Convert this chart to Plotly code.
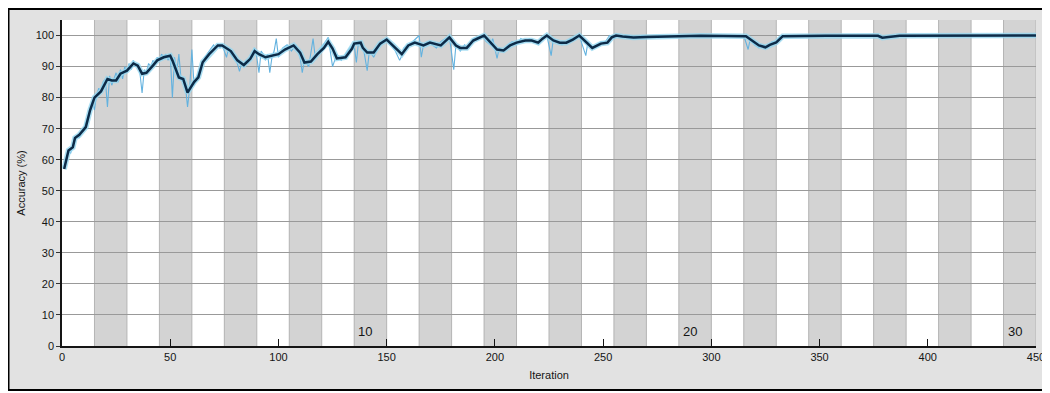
import plotly.graph_objects as go

# ---------------- data ----------------
iters_per_epoch = 15
n_epochs = 30
epoch_label_list = [10, 20, 30]
x_tick_vals = [0, 50, 100, 150, 200, 250, 300, 350, 400, 450]
y_tick_vals = [0, 10, 20, 30, 40, 50, 60, 70, 80, 90, 100]

# smoothed training accuracy (dark line)
smooth_iter = [1, 3, 5, 6, 8, 11, 13, 15, 18, 21,
               23, 25, 27, 30, 33, 35, 37, 39, 42, 44,
               47, 50, 51, 54, 56, 58, 61, 63, 65, 68,
               72, 74, 78, 81, 84, 87, 89, 91, 94, 97,
               100, 103, 107, 110, 112, 115, 118, 121, 123, 125,
               127, 131, 134, 135, 138, 139, 141, 144, 147, 150,
               153, 157, 160, 163, 167, 170, 175, 179, 182, 184,
               187, 190, 195, 198, 201, 204, 207, 210, 214, 217,
               220, 222, 224, 227, 230, 233, 236, 239, 243, 245,
               249, 252, 254, 256, 259, 264, 270, 282, 295, 316,
               319, 322, 325, 327, 330, 333, 353, 377, 379, 384,
               387, 450]
smooth_acc = [57, 63, 64, 67, 68, 70.5, 76, 80, 82, 86,
              85.5, 85.5, 87.7, 88.7, 91, 90.3, 87.7, 88, 90.3, 92,
              93, 93.5, 92, 86.5, 86, 81.6, 85, 86.5, 91.4, 94,
              96.8, 96.8, 95, 92, 90.5, 92.5, 95, 94, 93, 93.5,
              94, 95.5, 96.8, 94.5, 91.3, 91.6, 94, 96, 98, 95.8,
              92.6, 93, 95.8, 97.4, 97.7, 96, 94.5, 94.5, 97.4, 98.7,
              96.8, 94, 96.8, 97.7, 96.8, 97.7, 96.8, 99.4, 96.8, 96,
              96, 98.4, 100, 97.7, 95.5, 95.2, 96.8, 97.7, 98.4, 98.4,
              97.7, 99, 100, 98.4, 97.7, 97.7, 98.7, 100, 97.4, 96,
              97.4, 97.7, 99.4, 100, 99.7, 99.4, 99.5, 99.7, 99.9, 99.8,
              98.4, 96.8, 96.2, 97, 97.8, 99.8, 99.9, 99.9, 99.3, 99.7,
              99.9, 100]

# raw training accuracy (light blue line)
raw_iter = [1, 2, 3, 4, 5, 6, 7, 8, 9, 10,
            11, 12, 13, 14, 15, 16, 17, 18, 19, 20,
            21, 22, 23, 24, 25, 26, 27, 28, 29, 30,
            31, 32, 33, 34, 35, 36, 37, 38, 39, 40,
            41, 42, 43, 44, 45, 46, 47, 48, 49, 50,
            51, 52, 53, 54, 55, 56, 57, 58, 59, 60,
            61, 62, 63, 64, 65, 66, 67, 68, 69, 70,
            71, 72, 73, 74, 75, 76, 77, 78, 79, 80,
            81, 82, 83, 84, 85, 86, 87, 88, 89, 90,
            91, 92, 93, 94, 95, 96, 97, 98, 99, 100,
            102, 104, 106, 108, 110, 111, 112, 114, 116, 117,
            119, 121, 123, 125, 127, 129, 131, 133, 135, 136,
            137, 139, 141, 142, 144, 146, 148, 150, 152, 154,
            156, 157, 158, 160, 162, 165, 166, 167, 169, 171,
            173, 175, 177, 179, 181, 182, 184, 186, 188, 190,
            192, 194, 196, 198, 199, 201, 202, 204, 206, 208,
            210, 212, 214, 216, 218, 220, 222, 224, 226, 227,
            229, 231, 233, 235, 237, 239, 242, 243, 245, 247,
            249, 251, 253, 255, 257, 259, 262, 265, 268, 272,
            276, 280, 285, 290, 295, 300, 305, 310, 315, 317,
            318, 320, 322, 324, 326, 328, 330, 332, 335, 350,
            377, 378, 380, 385, 450]
raw_acc = [58, 60, 63, 62, 65, 66, 68, 67, 69, 70,
           72, 74, 77, 79, 76, 81, 83, 82, 85, 86,
           77, 87, 84, 86, 88, 85, 89, 86, 90, 88,
           91, 89, 92, 90, 91, 88, 81.5, 89, 88, 91,
           90, 92, 91, 93, 92, 94, 93, 94, 92, 94,
           80, 93, 88, 94, 86, 85, 84, 77, 83, 95.5,
           84, 86, 88, 90, 91, 93, 94, 95, 96, 97,
           96, 97, 96, 97, 95, 93, 96, 94, 93, 92,
           91, 88.5, 91, 90, 92, 91, 93, 94, 96, 93,
           88, 95, 94, 92, 94, 88, 93, 95, 99, 93,
           96, 97, 95, 97, 93, 88, 92, 90, 99, 93,
           95, 97, 99.4, 90, 94, 92, 94, 96, 97, 91.3,
           98, 97, 88.7, 95, 93, 96, 98, 99, 97, 95,
           92, 93.5, 96, 97, 98, 100, 93, 97, 98, 97,
           96, 98, 99, 99.5, 89, 97, 95, 97, 96, 99,
           99.5, 100, 98, 97, 99, 92.6, 96, 95, 97, 98,
           97, 99, 98, 99, 98, 97, 99, 100, 93.5, 99,
           98, 97, 98, 99, 99, 100, 93.5, 98, 96, 97,
           98, 98, 100, 99, 100, 99.5, 100, 99, 100, 99.5,
           100, 99.6, 100, 99.8, 100, 100, 99.8, 100, 100, 95.5,
           99, 97, 96, 97, 96, 98, 98, 100, 100, 100,
           100, 99, 99.5, 100, 100]

# ---------------- layout geometry (figure sits at page offset 8,8) ----------------
W, H = 1038, 383
ML, MR, MT, MB = 54, 10, 12, 45
PW, PH = W - ML - MR, H - MT - MB
X_MAX = iters_per_epoch * n_epochs
Y_MAX = 105


def paper_x(px):
    return (px - ML) / PW


def paper_y(py):
    return (H - MB - py) / PH


FONT = "Liberation Sans, Arial, sans-serif"
TXT = "#151515"

fig = go.Figure()
fig.add_trace(go.Scatter(x=raw_iter, y=raw_acc, mode="lines",
                         line=dict(color="#63b2df", width=1.1),
                         hoverinfo="skip", showlegend=False))
fig.add_trace(go.Scatter(x=smooth_iter, y=smooth_acc, mode="lines",
                         line=dict(color="rgba(150,215,240,0.8)", width=5.5),
                         hoverinfo="skip", showlegend=False))
fig.add_trace(go.Scatter(x=smooth_iter, y=smooth_acc, mode="lines",
                         line=dict(color="#0c2b48", width=2.5),
                         showlegend=False))

shapes = [dict(type="rect", xref="paper", yref="paper",
               x0=paper_x(0.5), x1=paper_x(W - 1), y0=paper_y(H - 1), y1=paper_y(1),
               fillcolor="#e2e2e2", line=dict(color="black", width=2), layer="below")]
for e in range(n_epochs):
    x0 = e * iters_per_epoch
    shapes.append(dict(type="rect", xref="x", yref="y",
                       x0=x0, x1=x0 + iters_per_epoch, y0=0, y1=Y_MAX,
                       fillcolor="#ffffff" if e % 2 == 0 else "#d3d3d3",
                       line=dict(width=0), layer="below"))
for e in range(1, n_epochs + 1):
    xe = e * iters_per_epoch
    shapes.append(dict(type="line", xref="x", yref="y",
                       x0=xe, x1=xe, y0=0, y1=Y_MAX,
                       line=dict(color="#b4b4b4", width=1), layer="below"))

annotations = []
for ep in epoch_label_list:
    annotations.append(dict(x=(ep - 1) * iters_per_epoch, y=0, xref="x", yref="y",
                            text=str(ep), showarrow=False,
                            xanchor="left", yanchor="bottom", xshift=2, yshift=5,
                            font=dict(family=FONT, size=13, color=TXT)))

fig.update_layout(
    width=W, height=H,
    margin=dict(l=ML, r=MR, t=MT, b=MB, pad=0, autoexpand=False),
    paper_bgcolor="#e2e2e2", plot_bgcolor="white",
    shapes=shapes, annotations=annotations,
    font=dict(family=FONT, size=11, color=TXT),
    showlegend=False,
)
fig.update_xaxes(range=[0, X_MAX], tickvals=x_tick_vals, automargin=False,
                 ticks="inside", ticklen=7, tickcolor=TXT, tickwidth=1.2,
                 showline=True, linecolor=TXT, linewidth=1.5,
                 showgrid=False, zeroline=False,
                 tickfont=dict(family=FONT, size=11, color=TXT),
                 title=dict(text="Iteration", standoff=9,
                            font=dict(family=FONT, size=11, color=TXT)))
fig.update_yaxes(range=[0, Y_MAX], tickvals=y_tick_vals, automargin=False,
                 ticks="outside", ticklen=4, tickcolor="#333333",
                 showline=True, linecolor=TXT, linewidth=1.5,
                 showgrid=True, gridcolor="#999999", gridwidth=1, zeroline=False,
                 tickfont=dict(family=FONT, size=11, color=TXT),
                 title=dict(text="Accuracy (%)", standoff=8,
                            font=dict(family=FONT, size=11, color=TXT)))

fig.write_html("out.html")
